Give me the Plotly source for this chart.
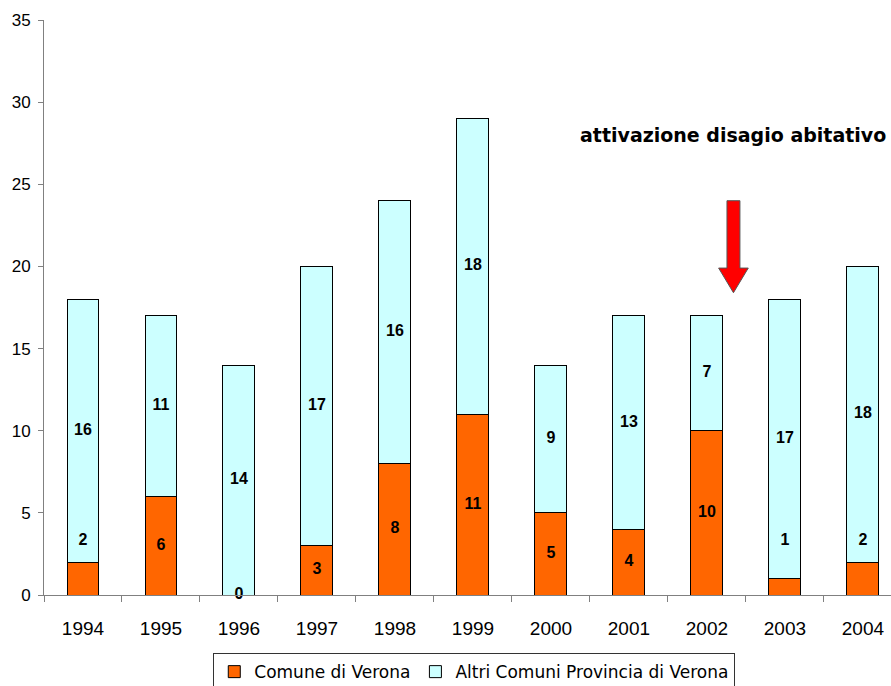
import plotly.graph_objects as go

years = ["1994", "1995", "1996", "1997", "1998", "1999", "2000", "2001", "2002", "2003", "2004"]
comune = [2, 6, 0, 3, 8, 11, 5, 4, 10, 1, 2]
altri = [16, 11, 14, 17, 16, 18, 9, 13, 7, 17, 18]
y_ticks = [0, 5, 10, 15, 20, 25, 30, 35]
note_text = "attivazione disagio abitativo"

ORANGE = "#FF6600"
CYAN = "#CCFFFF"
AXIS = "#808080"
LEG_FONT = "DejaVu Sans, sans-serif"
NUM_FONT = "Arial, Liberation Sans, sans-serif"

fig = go.Figure()
fig.add_trace(go.Bar(x=years, y=comune, name="Comune di Verona",
                     marker=dict(color=ORANGE, line=dict(color="black", width=1))))
fig.add_trace(go.Bar(x=years, y=altri, name="Altri Comuni Provincia di Verona",
                     marker=dict(color=CYAN, line=dict(color="black", width=1))))

# label positions: centred in segments; small bottom segments lifted above
c_lab_y = [v / 2 if (v >= 3 or v == 0) else 3.3 for v in comune]
a_lab_y = [c + a / 2 for c, a in zip(comune, altri)]
fig.add_trace(go.Scatter(x=years, y=c_lab_y, mode="text", text=[str(v) for v in comune],
                         textfont=dict(family=NUM_FONT, size=16, color="black", weight="bold"),
                         showlegend=False, hoverinfo="skip", cliponaxis=False))
fig.add_trace(go.Scatter(x=years, y=a_lab_y, mode="text", text=[str(v) for v in altri],
                         textfont=dict(family=NUM_FONT, size=16, color="black", weight="bold"),
                         showlegend=False, hoverinfo="skip"))

# red block arrow between 2002 and 2003
ax = 8.34
hw_s, hw_h = 0.083, 0.19
y_top, y_head, y_tip = 24.0, 19.9, 18.4
path = (f"M {ax-hw_s},{y_top} L {ax+hw_s},{y_top} L {ax+hw_s},{y_head} L {ax+hw_h},{y_head} "
        f"L {ax},{y_tip} L {ax-hw_h},{y_head} L {ax-hw_s},{y_head} Z")
fig.add_shape(type="path", path=path, xref="x", yref="y",
              fillcolor="#FF0000", line=dict(color="#555555", width=1))

fig.add_annotation(x=0.997, y=28.0, xref="paper", yref="y", xanchor="right", yanchor="middle",
                   text="<b>" + note_text + "</b>", showarrow=False,
                   font=dict(family=LEG_FONT, size=19, color="black"))

fig.update_layout(
    width=891, height=686,
    margin=dict(l=44, r=0, t=20, b=91, autoexpand=False),
    barmode="stack", bargap=0.59,
    plot_bgcolor="white", paper_bgcolor="white",
    showlegend=True,
    legend=dict(orientation="h", x=0.508, xanchor="center", y=-0.101, yanchor="top",
                bordercolor="#333333", borderwidth=1, bgcolor="white",
                font=dict(family=LEG_FONT, size=17, color="black"),
                traceorder="normal"),
    xaxis=dict(type="category", range=[-0.5, 10.36], showline=True, linecolor=AXIS, linewidth=1,
               ticks="outside", tickson="boundaries", ticklen=6, tickcolor=AXIS,
               ticklabelstandoff=16,
               showgrid=False, tickfont=dict(family=NUM_FONT, size=19, color="black")),
    yaxis=dict(range=[0, 35], tickvals=y_ticks, showline=True, linecolor=AXIS, linewidth=1,
               ticks="outside", ticklen=5, tickcolor=AXIS, showgrid=False, zeroline=False,
               ticklabelstandoff=4,
               tickfont=dict(family=NUM_FONT, size=17, color="black")),
)

fig.write_html("out.html", config={"displayModeBar": False},
               post_script="document.body.style.margin='0';document.body.style.overflow='hidden';")
